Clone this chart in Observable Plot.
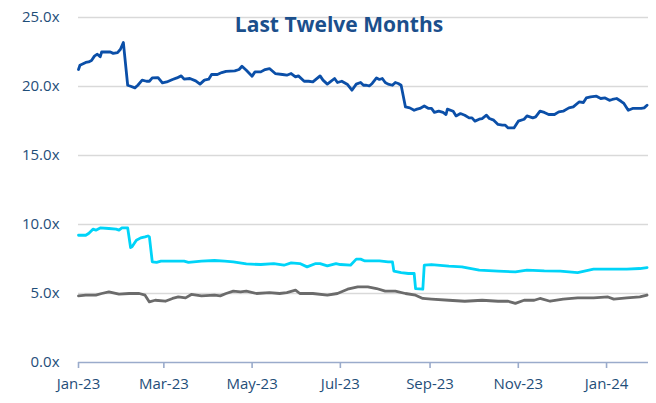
<!DOCTYPE html>
<html>
<head>
<meta charset="utf-8">
<script src="https://cdn.jsdelivr.net/npm/d3@7"></script>
<script src="https://cdn.jsdelivr.net/npm/@observablehq/plot@0.6"></script>
<style>
  html, body { margin: 0; padding: 0; background: #fff; }
  #wrap { position: relative; width: 656px; height: 403px; }
  #title { position: absolute; left: 189px; width: 300px; top: 14px; text-align: center;
    font-family: "Open Sans", sans-serif; font-weight: 700; font-size: 21px; line-height: 21px; color: #1B4F8C; }
</style>
</head>
<body>
<div id="wrap"><div id="title">Last Twelve Months</div></div>
<script>
const titleText = "Last Twelve Months";

const topDates = ["2023-01-01","2023-01-02","2023-01-06","2023-01-08","2023-01-10","2023-01-12","2023-01-14","2023-01-16","2023-01-17","2023-01-21","2023-01-23","2023-01-25","2023-01-28","2023-01-30","2023-02-01","2023-02-04","2023-02-06","2023-02-09","2023-02-11","2023-02-14","2023-02-17","2023-02-19","2023-02-21","2023-02-25","2023-02-28","2023-03-03","2023-03-07","2023-03-10","2023-03-13","2023-03-15","2023-03-19","2023-03-23","2023-03-26","2023-03-29","2023-04-01","2023-04-03","2023-04-07","2023-04-10","2023-04-13","2023-04-19","2023-04-22","2023-04-24","2023-04-27","2023-05-01","2023-05-03","2023-05-07","2023-05-10","2023-05-13","2023-05-17","2023-05-22","2023-05-25","2023-05-28","2023-05-31","2023-06-02","2023-06-06","2023-06-09","2023-06-12","2023-06-17","2023-06-19","2023-06-22","2023-06-24","2023-06-27","2023-06-29","2023-07-02","2023-07-06","2023-07-09","2023-07-12","2023-07-15","2023-07-17","2023-07-19","2023-07-21","2023-07-23","2023-07-26","2023-07-28","2023-07-30","2023-08-01","2023-08-03","2023-08-06","2023-08-08","2023-08-10","2023-08-12","2023-08-15","2023-08-18","2023-08-21","2023-08-23","2023-08-25","2023-08-28","2023-08-31","2023-09-02","2023-09-04","2023-09-07","2023-09-10","2023-09-12","2023-09-13","2023-09-17","2023-09-19","2023-09-22","2023-09-25","2023-09-28","2023-09-30","2023-10-02","2023-10-05","2023-10-07","2023-10-10","2023-10-12","2023-10-15","2023-10-18","2023-10-21","2023-10-23","2023-10-25","2023-10-29","2023-11-01","2023-11-05","2023-11-07","2023-11-11","2023-11-13","2023-11-16","2023-11-19","2023-11-22","2023-11-26","2023-11-29","2023-12-02","2023-12-06","2023-12-09","2023-12-13","2023-12-16","2023-12-18","2023-12-21","2023-12-25","2023-12-28","2023-12-31","2024-01-03","2024-01-05","2024-01-08","2024-01-11","2024-01-13","2024-01-16","2024-01-19","2024-01-22","2024-01-25","2024-01-27","2024-01-29"];
const topValues = [21.23,21.54,21.74,21.78,21.88,22.2,22.34,22.15,22.5,22.5,22.5,22.4,22.46,22.7,23.19,20.09,20.02,19.9,20.09,20.46,20.38,20.38,20.62,20.65,20.26,20.33,20.51,20.62,20.77,20.53,20.58,20.41,20.17,20.46,20.53,20.87,20.87,21.01,21.1,21.13,21.23,21.47,21.18,20.75,21.06,21.06,21.23,21.3,20.94,20.87,20.82,20.94,20.7,20.77,20.38,20.38,20.33,20.77,20.46,20.17,20.33,20.58,20.29,20.38,20.14,19.73,20.17,20.29,20.09,20.09,20.04,20.22,20.62,20.51,20.58,20.29,20.17,20.09,20.29,20.22,20.09,18.52,18.45,18.28,18.36,18.41,18.59,18.41,18.41,18.12,18.21,18.12,17.97,18.36,18.21,17.87,18.04,17.92,17.73,17.73,17.49,17.63,17.68,17.92,17.68,17.56,17.25,17.2,17.2,17.0,17.0,17.49,17.63,17.87,17.73,17.8,18.21,18.12,17.97,17.97,18.16,18.21,18.45,18.52,18.88,18.84,19.17,19.25,19.3,19.13,19.17,19.0,19.06,19.13,18.93,18.77,18.28,18.41,18.41,18.41,18.45,18.64];

const midDates = ["2023-01-01","2023-01-06","2023-01-08","2023-01-11","2023-01-13","2023-01-16","2023-01-22","2023-01-27","2023-01-29","2023-01-31","2023-02-04","2023-02-06","2023-02-07","2023-02-10","2023-02-13","2023-02-16","2023-02-18","2023-02-19","2023-02-21","2023-02-24","2023-02-27","2023-03-07","2023-03-15","2023-03-18","2023-03-27","2023-04-05","2023-04-12","2023-04-18","2023-04-27","2023-05-07","2023-05-16","2023-05-23","2023-05-28","2023-06-03","2023-06-08","2023-06-14","2023-06-17","2023-06-22","2023-06-28","2023-07-01","2023-07-08","2023-07-12","2023-07-15","2023-07-18","2023-07-28","2023-08-03","2023-08-06","2023-08-07","2023-08-12","2023-08-17","2023-08-21","2023-08-22","2023-08-27","2023-08-28","2023-09-02","2023-09-14","2023-09-23","2023-10-05","2023-10-18","2023-10-30","2023-11-07","2023-11-19","2023-11-30","2023-12-12","2023-12-23","2024-01-04","2024-01-15","2024-01-24","2024-01-29"];
const midValues = [9.22,9.22,9.35,9.66,9.59,9.75,9.71,9.66,9.59,9.75,9.75,8.33,8.38,8.86,9.03,9.1,9.17,9.1,7.29,7.25,7.34,7.34,7.34,7.25,7.34,7.39,7.34,7.29,7.14,7.1,7.17,7.05,7.22,7.17,6.93,7.17,7.17,7.0,7.17,7.1,7.05,7.49,7.49,7.36,7.36,7.29,7.29,6.62,6.52,6.45,6.45,5.36,5.31,7.05,7.1,6.98,6.93,6.69,6.62,6.57,6.69,6.64,6.62,6.52,6.76,6.76,6.76,6.81,6.88];

const lowDates = ["2023-01-01","2023-01-06","2023-01-13","2023-01-17","2023-01-22","2023-01-29","2023-02-05","2023-02-12","2023-02-16","2023-02-19","2023-02-23","2023-03-02","2023-03-07","2023-03-11","2023-03-16","2023-03-20","2023-03-27","2023-04-05","2023-04-09","2023-04-13","2023-04-18","2023-04-23","2023-04-27","2023-05-04","2023-05-13","2023-05-20","2023-05-25","2023-05-31","2023-06-03","2023-06-12","2023-06-22","2023-06-29","2023-07-06","2023-07-13","2023-07-20","2023-07-26","2023-08-01","2023-08-08","2023-08-15","2023-08-22","2023-08-27","2023-09-02","2023-09-14","2023-09-25","2023-10-07","2023-10-18","2023-10-25","2023-10-30","2023-11-05","2023-11-12","2023-11-16","2023-11-23","2023-12-02","2023-12-12","2023-12-23","2024-01-02","2024-01-06","2024-01-15","2024-01-24","2024-01-29"];
const lowValues = [4.83,4.88,4.88,5.0,5.12,4.95,5.0,5.0,4.88,4.39,4.51,4.44,4.64,4.75,4.68,4.93,4.83,4.88,4.83,5.0,5.17,5.12,5.17,5.0,5.07,5.0,5.07,5.24,5.0,5.0,4.88,5.0,5.31,5.48,5.48,5.36,5.17,5.17,5.0,4.88,4.64,4.59,4.51,4.44,4.51,4.44,4.44,4.28,4.51,4.51,4.64,4.44,4.59,4.68,4.68,4.75,4.59,4.68,4.75,4.88];

const yTicks = [0, 5, 10, 15, 20, 25];
const xTicks = ["2023-01-01","2023-03-01","2023-05-01","2023-07-01","2023-09-01","2023-11-01","2024-01-01"];
const xDomain = ["2023-01-01", "2024-01-30"];

const series = [
  {dates: topDates, values: topValues, color: "#0B4FA8"},
  {dates: midDates, values: midValues, color: "#00D4F8"},
  {dates: lowDates, values: lowValues, color: "#6B6B6B"}
];

const lineMarks = series.map(s => {
  const rows = s.dates.map((d, i) => ({date: new Date(d), value: s.values[i]}));
  return Plot.line(rows, {x: "date", y: "value", stroke: s.color, strokeWidth: 2.8, strokeLinejoin: "round", strokeLinecap: "round"});
});

const chart = Plot.plot({
  width: 656,
  height: 403,
  marginTop: 17,
  marginBottom: 41,
  marginLeft: 78,
  marginRight: 8,
  style: {fontFamily: "'Open Sans', sans-serif", fontSize: "15px", color: "#1F4E79", background: "transparent"},
  x: {type: "utc", domain: xDomain.map(d => new Date(d)), label: null},
  y: {domain: [0, 25], label: null},
  marks: [
    Plot.gridY(yTicks.filter(t => t > 0), {stroke: "#D9D9D9", strokeOpacity: 1, strokeWidth: 1.6}),
    Plot.axisY(yTicks, {tickSize: 0, tickPadding: 19, tickFormat: d => d.toFixed(1) + "x", fill: "#1F4E79", label: null}),
    Plot.ruleY([0], {stroke: "#9AABCB", strokeWidth: 1.6}),
    Plot.axisX(xTicks.map(d => new Date(d)), {tickSize: 6, tickPadding: 10, tickFormat: d3.utcFormat("%b-%y"), stroke: "#9AABCB", fill: "#1F4E79", strokeWidth: 1.6, label: null}),
    ...lineMarks
  ]
});
document.getElementById("wrap").appendChild(chart);
</script>
</body>
</html>
